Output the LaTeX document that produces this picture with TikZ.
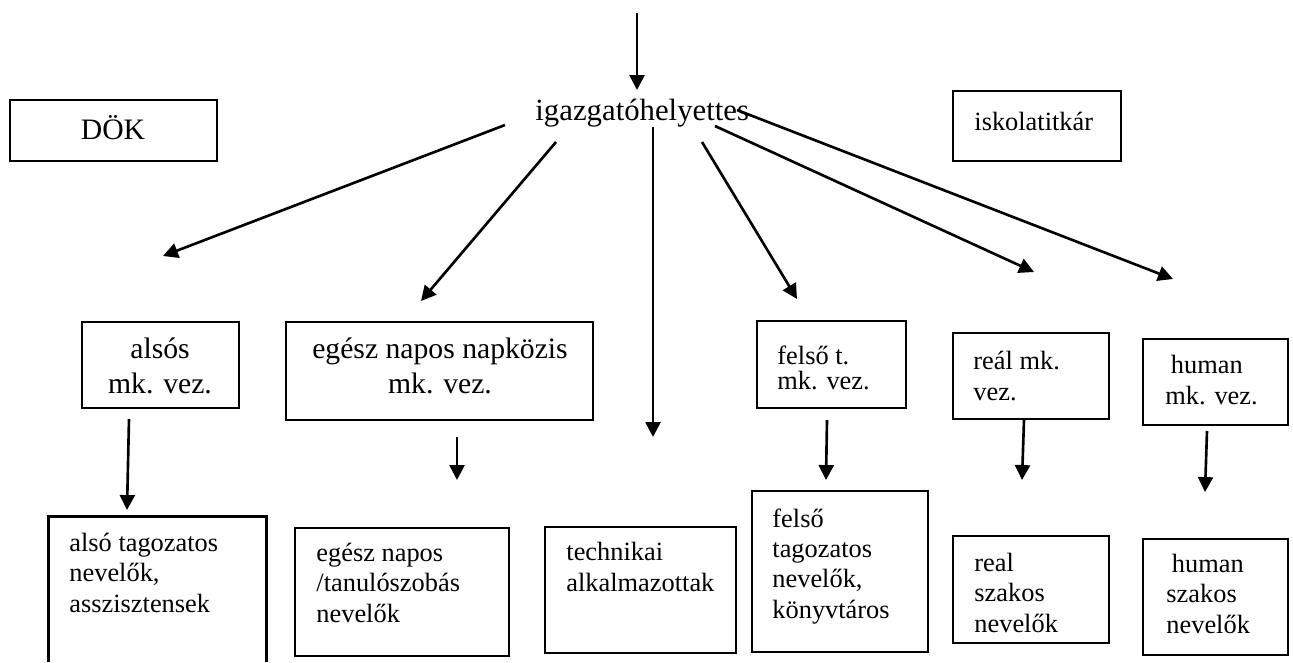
\documentclass[tikz,border=0pt]{standalone}
\usepackage{fontspec}
\setmainfont{Liberation Serif}
\usetikzlibrary{arrows.meta,fit}
\begin{document}
\begin{tikzpicture}[x=0.455pt,y=-0.455pt,
  box/.style={draw,line width=1pt,inner sep=0pt,fit={#1}},
  openbox/.style={draw=none,inner sep=0pt,fit={#1}},
  boxline/.style={line width=1pt},
  arr/.style={line width=1.2pt,-{Triangle[length=6.8pt,width=6.8pt]}},
  big/.style={inner sep=0pt,font=\fontsize{13.5}{15.5}\selectfont},
  small/.style={inner sep=0pt,align=left,font=\fontsize{12}{13.7}\selectfont},
  tight/.style={inner sep=0pt,align=left,font=\fontsize{12}{11.2}\selectfont}]
\useasboundingbox (0,0) rectangle (1293,662);

% head
\node[inner sep=0pt,anchor=base west,font=\fontsize{14}{16}\selectfont] (ig) at (535,120) {igazgatóhelyettes};

% top boxes
\node[box={(10,100) (217,161)}] (dok) {};
\node[big,anchor=base] (dokt) at (113,139) {DÖK};
\node[box={(953,91) (1121,161)}] (isk) {};
\node[small,anchor=base west] (iskt) at (974,130) {iskolatitkár};

% middle row (anchor = baseline of last line)
\node[box={(82,322) (239,408)}] (alsos) {};
\node[big,align=center,anchor=base] (alsost) at (160,393) {alsós\\mk. vez.};
\node[box={(286,322) (593,420)}] (egesz) {};
\node[big,align=center,anchor=base] (egeszt) at (440,393) {egész napos napközis\\mk. vez.};
\node[box={(757,321) (906,408)}] (felsot) {};
\node[tight,anchor=base west] (felsott) at (777,389) {felső t.\\mk. vez.};
\node[box={(953,333) (1109,419)}] (real) {};
\node[small,anchor=base west] (realt) at (973,400) {reál mk.\\vez.};
\node[box={(1143,339) (1288,425)}] (human) {};
\node[small,anchor=base west] (humant) at (1165,404) {\hspace*{2.5pt}human\\mk. vez.};

% bottom row
\node[openbox={(49,517) (266,662)}] (alsotag) {};
\draw[boxline] (alsotag.south west) -- (alsotag.north west) -- (alsotag.north east) -- (alsotag.south east);
\node[small,anchor=base west] (alsotagt) at (69,612) {alsó tagozatos\\nevelők,\\asszisztensek};
\node[box={(295,528) (509,656)}] (egeszn) {};
\node[small,anchor=base west] (egeszt2) at (316,622) {egész napos\\/tanulószobás\\nevelők};
\node[box={(545,527) (736,653)}] (tech) {};
\node[small,anchor=base west] (techt) at (566,591) {technikai\\alkalmazottak};
\node[box={(752,491) (928,652)}] (felsotag) {};
\node[small,anchor=base west] (felsotagt) at (772,618) {felső\\tagozatos\\nevelők,\\könyvtáros};
\node[box={(953,536) (1109,643)}] (realsz) {};
\node[small,anchor=base west] (realszt) at (974,632) {real\\szakos\\nevelők};
\node[box={(1143,539) (1288,655)}] (humansz) {};
\node[small,anchor=base west] (humanszt) at (1166,633) {\hspace*{2.5pt}human\\szakos\\nevelők};

% connector ends
\coordinate (t0) at (637,13);   \coordinate (t1) at (637,90);
\coordinate (a1s) at (505,125); \coordinate (a1e) at (163,256);
\coordinate (a2s) at (556,142); \coordinate (a2e) at (421,301);
\coordinate (a3s) at (653,127); \coordinate (a3e) at (653,437);
\coordinate (a4s) at (702,142); \coordinate (a4e) at (797,299);
\coordinate (a5s) at (715,126); \coordinate (a5e) at (1034,272);
\coordinate (a6s) at (737,110); \coordinate (a6e) at (1173,279);
\coordinate (d1s) at (129,419); \coordinate (d1e) at (127,510);
\coordinate (d2s) at (457,437); \coordinate (d2e) at (457,480);
\coordinate (d3s) at (827,420); \coordinate (d3e) at (826,480);
\coordinate (d4s) at (1024,420); \coordinate (d4e) at (1022,480);
\coordinate (d5s) at (1207,431); \coordinate (d5e) at (1205,492);

\draw[arr] (t0) -- (t1);
\draw[arr] (a1s) -- (a1e);
\draw[arr] (a2s) -- (a2e);
\draw[arr] (a3s) -- (a3e);
\draw[arr] (a4s) -- (a4e);
\draw[arr] (a5s) -- (a5e);
\draw[arr] (a6s) -- (a6e);
\draw[arr] (d1s) -- (d1e);
\draw[arr] (d2s) -- (d2e);
\draw[arr] (d3s) -- (d3e);
\draw[arr] (d4s) -- (d4e);
\draw[arr] (d5s) -- (d5e);
\end{tikzpicture}
\end{document}
